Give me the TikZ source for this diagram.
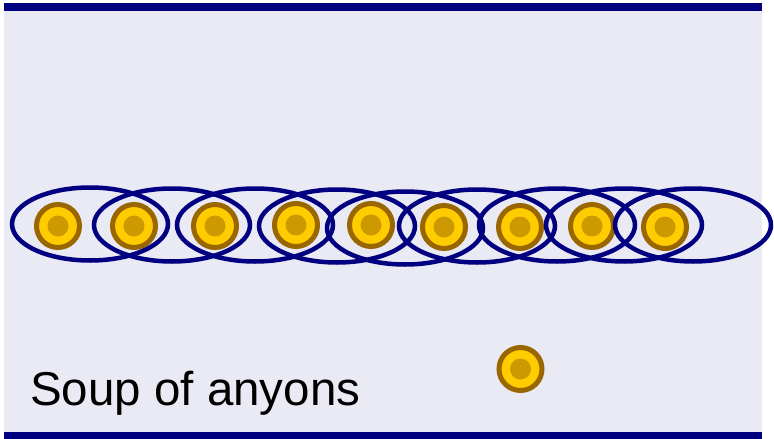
\documentclass[tikz,border=0pt]{standalone}
\usepackage{fontspec}
\setmainfont{Liberation Sans}
\usetikzlibrary{shapes.geometric}
\definecolor{panel}{RGB}{234,234,244}
\definecolor{navyline}{RGB}{0,0,128}
\definecolor{anyring}{RGB}{153,102,0}
\definecolor{anyfill}{RGB}{255,204,0}
\definecolor{anycore}{RGB}{204,153,0}
\tikzset{
  anyon/.style={circle, draw=anyring, fill=anyfill, line width=5pt,
    minimum size=43pt, inner sep=0pt},
  anycorestyle/.style={circle, fill=anycore, minimum size=21pt, inner sep=0pt},
  pairloop/.style={ellipse, draw=navyline, line width=4.5pt,
    minimum width=156pt, minimum height=73pt, inner sep=0pt},
  bar/.style={fill=navyline}
}
\begin{document}
\begin{tikzpicture}[x=1pt,y=-1pt]
  \useasboundingbox (0,0) rectangle (774,439);
  % panel and its two rules
  \fill[panel] (4,3) rectangle (762,439);
  \fill[bar] (4,3) rectangle (762,11);
  \fill[bar] (4,432) rectangle (762,439);

  % row of anyons
  \foreach \i/\x/\y in {1/58/226, 2/134/226, 3/215/226, 4/296/225, 5/371/225,
                        6/444/227, 7/520/227, 8/592/226, 9/665/227} {
    \node[anyon] (a\i) at (\x,\y) {};
    \node[anycorestyle] (c\i) at (a\i.center) {};
  }

  % pairing loops
  \foreach \j/\x/\y in {1/90/224, 2/172/225, 3/255/225, 4/337/226, 5/405/228,
                        6/477/226, 7/557/225, 8/624/225, 9/693/225} {
    \node[pairloop] (e\j) at (\x,\y) {};
  }

  % the free anyon
  \node[anyon] (free) at (520.5,369) {};
  \node[anycorestyle] (freecore) at (free.center) {};

  \node[anchor=base west, inner sep=0pt, font=\fontsize{47.5}{56}\selectfont]
    (label) at (30,405) {Soup of anyons};
\end{tikzpicture}
\end{document}
